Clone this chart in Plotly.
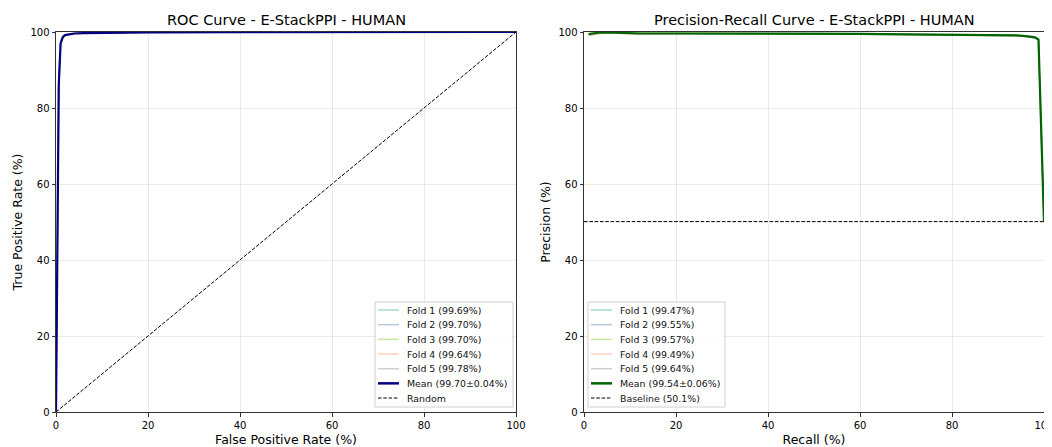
import plotly.graph_objects as go

# ---- ROC data (percent) ----
roc_fpr = [0, 0.3, 0.6, 1.0, 1.5, 2.0, 3.0, 4.0, 6.0, 10, 20, 40, 60, 80, 100]
roc_fold1 = [0, 55, 85, 96.8, 98.6, 99.2, 99.5, 99.6, 99.7, 99.8, 99.9, 99.95, 100, 100, 100]
roc_fold2 = [0, 58, 87, 97.2, 98.8, 99.3, 99.5, 99.6, 99.7, 99.8, 99.9, 99.95, 100, 100, 100]
roc_fold3 = [0, 57, 86, 97.0, 98.7, 99.3, 99.6, 99.7, 99.8, 99.85, 99.9, 99.95, 100, 100, 100]
roc_fold4 = [0, 50, 82, 96.2, 98.3, 99.0, 99.4, 99.5, 99.6, 99.75, 99.85, 99.95, 100, 100, 100]
roc_fold5 = [0, 62, 89, 97.8, 99.0, 99.4, 99.6, 99.7, 99.8, 99.9, 99.95, 100, 100, 100, 100]
roc_mean = [0, 56, 86, 97.0, 98.7, 99.2, 99.5, 99.6, 99.7, 99.8, 99.9, 99.95, 100, 100, 100]
roc_labels = ["Fold 1 (99.69%)", "Fold 2 (99.70%)", "Fold 3 (99.70%)",
              "Fold 4 (99.64%)", "Fold 5 (99.78%)"]
roc_mean_label = "Mean (99.70±0.04%)"
random_label = "Random"
random_x = [0, 100]
random_y = [0, 100]

# ---- PR data (percent) ----
pr_recall = [1, 3, 5, 8, 12, 20, 30, 40, 50, 60, 70, 80, 90, 94, 96, 98, 98.8, 99.3, 100]
pr_fold1 = [99.2, 99.6, 99.8, 99.6, 99.5, 99.5, 99.5, 99.5, 99.5, 99.4, 99.3, 99.2, 99.1, 99.0, 98.8, 98.4, 97.8, 75, 50]
pr_fold2 = [99.5, 99.8, 99.9, 99.7, 99.6, 99.6, 99.6, 99.6, 99.6, 99.5, 99.4, 99.3, 99.2, 99.1, 98.9, 98.6, 98.0, 75, 50]
pr_fold3 = [99.6, 99.9, 100, 99.8, 99.7, 99.7, 99.6, 99.6, 99.6, 99.5, 99.4, 99.3, 99.2, 99.1, 98.9, 98.6, 98.1, 75, 50]
pr_fold4 = [99.0, 99.5, 99.7, 99.5, 99.4, 99.5, 99.5, 99.5, 99.5, 99.4, 99.3, 99.2, 99.1, 99.0, 98.8, 98.5, 97.9, 75, 50]
pr_fold5 = [99.7, 100, 100, 99.9, 99.8, 99.8, 99.7, 99.7, 99.7, 99.6, 99.5, 99.4, 99.3, 99.2, 99.0, 98.8, 98.3, 75, 50]
pr_mean = [99.4, 99.8, 99.9, 99.7, 99.6, 99.6, 99.6, 99.6, 99.6, 99.5, 99.4, 99.3, 99.2, 99.1, 98.9, 98.6, 98.0, 75, 50]
pr_labels = ["Fold 1 (99.47%)", "Fold 2 (99.55%)", "Fold 3 (99.57%)",
             "Fold 4 (99.49%)", "Fold 5 (99.64%)"]
pr_mean_label = "Mean (99.54±0.06%)"
baseline_x = [0, 100]
baseline_y = [50.1, 50.1]
baseline_label = "Baseline (50.1%)"

fold_colors = ["rgba(102,194,165,0.6)", "rgba(141,160,203,0.6)", "rgba(166,216,84,0.6)",
               "rgba(252,141,98,0.4)", "rgba(179,179,179,0.65)"]
mean_roc_color = "#000080"
mean_pr_color = "#006400"
dash_style = "3.7px,1.6px"

# screen-space layout targets (page body has an 8px default margin)
OFF = 8
W, H = 1052, 447
PL, PR, PT, PB = 56, 1044, 32, 412   # plot-area edges on screen
PW, PH = PR - PL, PB - PT


def px(xp):
    return (xp - PL) / PW


def py(yp):
    return (PB - yp) / PH


fig = go.Figure()

roc_folds = [roc_fold1, roc_fold2, roc_fold3, roc_fold4, roc_fold5]
for f, lab, c in zip(roc_folds, roc_labels, fold_colors):
    fig.add_trace(go.Scatter(x=roc_fpr, y=f, mode="lines", name=lab,
                             line=dict(color=c, width=1.2), xaxis="x", yaxis="y"))
fig.add_trace(go.Scatter(x=roc_fpr, y=roc_mean, mode="lines", name=roc_mean_label,
                         line=dict(color=mean_roc_color, width=2.2), xaxis="x", yaxis="y"))
fig.add_trace(go.Scatter(x=random_x, y=random_y, mode="lines", name=random_label,
                         line=dict(color="black", width=1, dash=dash_style),
                         xaxis="x", yaxis="y"))

pr_folds = [pr_fold1, pr_fold2, pr_fold3, pr_fold4, pr_fold5]
for f, lab, c in zip(pr_folds, pr_labels, fold_colors):
    fig.add_trace(go.Scatter(x=pr_recall, y=f, mode="lines", name=lab,
                             line=dict(color=c, width=1.2), xaxis="x2", yaxis="y2"))
fig.add_trace(go.Scatter(x=pr_recall, y=pr_mean, mode="lines", name=pr_mean_label,
                         line=dict(color=mean_pr_color, width=2.2), xaxis="x2", yaxis="y2"))
fig.add_trace(go.Scatter(x=baseline_x, y=baseline_y, mode="lines", name=baseline_label,
                         line=dict(color="black", width=1, dash=dash_style),
                         xaxis="x2", yaxis="y2"))

axis_common = dict(range=[0, 100], tickvals=[0, 20, 40, 60, 80, 100],
                   showgrid=True, gridcolor="rgba(0,0,0,0.08)", gridwidth=1,
                   showline=True, linecolor="#333", linewidth=1, mirror=True,
                   ticks="outside", ticklen=3.5, tickcolor="#333", zeroline=False,
                   automargin=False, ticklabeloverflow="allow",
                   tickfont=dict(size=10, color="black"))

# ---- custom compact legends (matplotlib-like) ----
shapes = []
annotations = []


def add_legend(x0, x1, y0, y1, entries):
    shapes.append(dict(type="rect", xref="paper", yref="paper",
                       x0=px(x0), x1=px(x1), y0=py(y1), y1=py(y0),
                       line=dict(color="#d0d0d0", width=1),
                       fillcolor="rgba(255,255,255,0.85)", layer="above"))
    step = 14.67
    for i, (lab, color, width, dash) in enumerate(entries):
        yc = y0 + 8 + i * step
        shapes.append(dict(type="line", xref="paper", yref="paper",
                           x0=px(x0 + 3), x1=px(x0 + 24), y0=py(yc), y1=py(yc),
                           line=dict(color=color, width=width, dash=dash), layer="above"))
        annotations.append(dict(text=lab, xref="paper", yref="paper",
                                x=px(x0 + 30), y=py(yc), xanchor="left", yanchor="middle",
                                showarrow=False, font=dict(size=9.4, color="#111")))


roc_entries = [(l, c, 1.5, "solid") for l, c in zip(roc_labels, fold_colors)]
roc_entries += [(roc_mean_label, mean_roc_color, 2.5, "solid"),
                (random_label, "black", 1, "3.5px,1.8px")]
pr_entries = [(l, c, 1.5, "solid") for l, c in zip(pr_labels, fold_colors)]
pr_entries += [(pr_mean_label, mean_pr_color, 2.5, "solid"),
               (baseline_label, "black", 1, "3.5px,1.8px")]
add_legend(375, 513, 302, 407, roc_entries)
add_legend(588, 725, 302, 407, pr_entries)

annotations += [
    dict(text="ROC Curve - E-StackPPI - HUMAN", x=px(286), xref="paper", xanchor="center",
         y=1, yref="paper", yanchor="bottom", yshift=2, showarrow=False,
         font=dict(size=14.5, color="black")),
    dict(text="Precision-Recall Curve - E-StackPPI - HUMAN", x=px(814), xref="paper",
         xanchor="center", y=1, yref="paper", yanchor="bottom", yshift=2, showarrow=False,
         font=dict(size=14.5, color="black")),
]

fig.update_layout(
    width=W - OFF, height=H - OFF,
    margin=dict(l=PL - OFF, r=W - PR, t=PT - OFF, b=H - PB),
    paper_bgcolor="white", plot_bgcolor="white",
    font=dict(family="DejaVu Sans", color="black"),
    showlegend=False,
    xaxis=dict(domain=[0, px(516)], anchor="y",
               title=dict(text="False Positive Rate (%)", font=dict(size=12.5), standoff=5),
               **axis_common),
    yaxis=dict(domain=[0, 1], anchor="x",
               title=dict(text="True Positive Rate (%)", font=dict(size=12.5), standoff=5),
               **axis_common),
    xaxis2=dict(domain=[px(584), 1], anchor="y2",
                title=dict(text="Recall (%)", font=dict(size=12.5), standoff=5),
                **axis_common),
    yaxis2=dict(domain=[0, 1], anchor="x2",
                title=dict(text="Precision (%)", font=dict(size=12.5), standoff=5),
                **axis_common),
    shapes=shapes,
    annotations=annotations,
)

fig.write_html("out.html")
